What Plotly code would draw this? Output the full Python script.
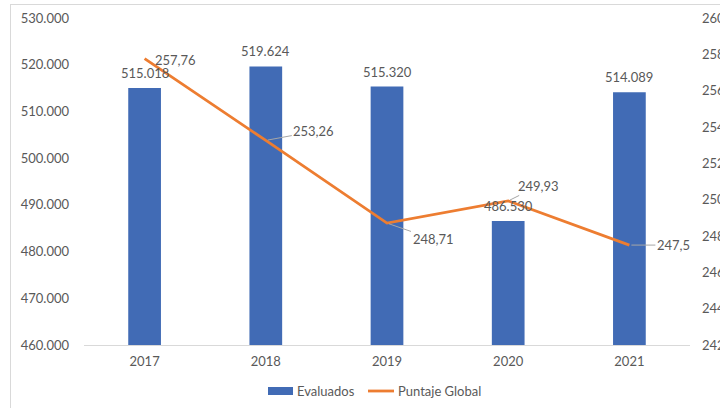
import plotly.graph_objects as go

# Data
years = ["2017", "2018", "2019", "2020", "2021"]
evaluados = [515018, 519624, 515320, 486530, 514089]
puntaje = [257.76, 253.26, 248.71, 249.93, 247.5]

# Label offsets (pixels) for the score labels, relative to each point
label_dx = [31, 48, 46, 30, 44]
label_dy = [1, -9, 16, -15, 0]
label_arrow = [False, True, True, True, True]

FONT = "Lato"
GREY = "#595959"
BLUE = "#416BB5"
ORANGE = "#ED7D31"

W, H = 720, 408
L, R, T, B = 84, 30, 18, 63
PW, PH = W - L - R, H - T - B


def px_x(x):
    return (x - L) / PW


def px_y(y):
    return (H - B - y) / PH


def thousands(v):
    return f"{v:,}".replace(",", ".")


def decimal_comma(v):
    s = f"{v:.2f}".rstrip("0").rstrip(".")
    return s.replace(".", ",")


fig = go.Figure()

fig.add_trace(go.Bar(
    x=years, y=evaluados, name="Evaluados",
    marker=dict(color=BLUE, line=dict(width=0)),
    width=0.27,
    cliponaxis=False,
    yaxis="y",
))

fig.add_trace(go.Scatter(
    x=years, y=puntaje, name="Puntaje Global",
    mode="lines",
    line=dict(color=ORANGE, width=2.8),
    yaxis="y2",
))

annotations = []
# value labels above the bars
for i, v in enumerate(evaluados):
    annotations.append(dict(
        x=i, y=v, xref="x", yref="y", text=thousands(v),
        showarrow=False, yanchor="bottom", yshift=5,
        font=dict(family=FONT, size=13, color=GREY),
    ))

# score labels next to the line points
for i, (v, dx, dy, arr) in enumerate(zip(puntaje, label_dx, label_dy, label_arrow)):
    a = dict(
        x=i, y=v, xref="x", yref="y2",
        text=decimal_comma(v),
        font=dict(family=FONT, size=13, color=GREY),
    )
    if arr:
        a.update(showarrow=True, ax=dx, ay=dy, arrowhead=0,
                 arrowwidth=1, arrowcolor="#A6A6A6", standoff=2)
    else:
        a.update(showarrow=False, xshift=dx, yshift=-dy)
    annotations.append(a)

# Legend entries
legend_y = px_y(391)
annotations.append(dict(x=px_x(295), y=legend_y, xref="paper", yref="paper",
                        text="Evaluados", showarrow=False,
                        xanchor="left", yanchor="middle",
                        font=dict(family=FONT, size=13, color=GREY)))
annotations.append(dict(x=px_x(396), y=legend_y, xref="paper", yref="paper",
                        text="Puntaje Global", showarrow=False,
                        xanchor="left", yanchor="middle",
                        font=dict(family=FONT, size=13, color=GREY)))

shapes = [
    # chart border (top and left edges)
    dict(type="line", xref="paper", yref="paper",
         x0=px_x(10), x1=px_x(720), y0=px_y(4.5), y1=px_y(4.5),
         line=dict(color="#D9D9D9", width=1)),
    dict(type="line", xref="paper", yref="paper",
         x0=px_x(10.5), x1=px_x(10.5), y0=px_y(4), y1=px_y(408),
         line=dict(color="#D9D9D9", width=1)),
    # legend symbols
    dict(type="rect", xref="paper", yref="paper",
         x0=px_x(268), x1=px_x(293), y0=px_y(387), y1=px_y(395),
         fillcolor=BLUE, line=dict(width=0)),
    dict(type="line", xref="paper", yref="paper",
         x0=px_x(368), x1=px_x(394), y0=legend_y, y1=legend_y,
         line=dict(color=ORANGE, width=2.8)),
]

fig.update_layout(
    width=W, height=H,
    margin=dict(l=L, r=R, t=T, b=B, autoexpand=False),
    paper_bgcolor="white", plot_bgcolor="white",
    separators=",.",
    showlegend=False,
    font=dict(family=FONT, size=13, color=GREY),
    xaxis=dict(
        type="category", categoryorder="array", categoryarray=years,
        range=[-0.5, len(years) - 0.5], autorange=False,
        showline=True, linecolor="#D9D9D9", linewidth=1,
        showgrid=False, ticks="", ticklabelstandoff=4,
        tickfont=dict(family=FONT, size=13, color=GREY),
    ),
    yaxis=dict(
        range=[460000, 530000], dtick=10000, tickformat=",d",
        showgrid=False, zeroline=False, showline=False, ticks="",
        ticklabelstandoff=14,
        tickfont=dict(family=FONT, size=13, color=GREY),
    ),
    yaxis2=dict(
        range=[242, 260], dtick=2, overlaying="y", side="right",
        showgrid=False, zeroline=False, showline=False, ticks="",
        ticklabelstandoff=11,
        tickfont=dict(family=FONT, size=13, color=GREY),
    ),
    annotations=annotations,
    shapes=shapes,
)

fig.write_html("out.html")
